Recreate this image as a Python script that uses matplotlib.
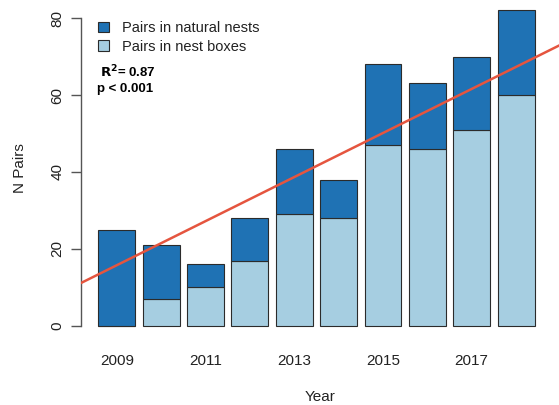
import matplotlib
matplotlib.use("Agg")
import matplotlib.pyplot as plt
from matplotlib.patches import Patch

# ---- data ----
years = [2009, 2010, 2011, 2012, 2013, 2014, 2015, 2016, 2017, 2018]
nest_boxes = [0, 7, 10, 17, 29, 28, 47, 46, 51, 60]
natural_nests = [25, 14, 6, 11, 17, 10, 21, 17, 19, 22]
y_ticks = [0, 20, 40, 60, 80]
legend_labels = ["Pairs in natural nests", "Pairs in nest boxes"]
# fitted trend values at first and last year
trend_first = 15.8
trend_last = 67.3
r2_text = r"$\mathbf{R^2}$= 0.87"
p_text = "p < 0.001"

plt.rcParams['font.family'] = ['Liberation Sans', 'DejaVu Sans']

W, H = 559, 405
fig = plt.figure(figsize=(W / 100, H / 100), dpi=100)
ax = fig.add_axes([81 / W, (H - 338.6) / H, (560 - 81) / W, 340.9 / H])

dark = "#1F72B4"
light = "#A6CEE1"
edge = "#2b2b2b"

xpos = [0.7 + 1.2 * i for i in range(len(years))]
ax.bar(xpos, nest_boxes, width=1.0, color=light, edgecolor=edge, linewidth=0.8, zorder=2)
ax.bar(xpos, natural_nests, width=1.0, bottom=nest_boxes, color=dark, edgecolor=edge,
       linewidth=0.8, zorder=2)

ax.axline((xpos[0], trend_first), (xpos[-1], trend_last), color="#E5553F", lw=1.8, zorder=3)

ax.set_xlim(-0.272, 12.69)
ax.set_ylim(-3.28, 85.28)

for s in ["top", "right", "bottom"]:
    ax.spines[s].set_visible(False)
ax.spines["left"].set_bounds(0, 80)
ax.spines["left"].set_color("#555555")
ax.spines["left"].set_linewidth(1.0)

ax.set_yticks(y_ticks)
ax.set_yticklabels([str(v) for v in y_ticks], rotation=90, va="center", fontsize=11, color="#222222")
ax.tick_params(axis="y", length=7, width=1.0, color="#555555", pad=5)

ax.set_xticks(xpos)
ax.set_xticklabels([str(y) if i % 2 == 0 else "" for i, y in enumerate(years)],
                   fontsize=11, color="#222222")
ax.tick_params(axis="x", length=0, pad=11)

ax.set_xlabel("Year", fontsize=11, color="#222222", labelpad=16)
ax.set_ylabel("N Pairs", fontsize=11, color="#222222", labelpad=17)

handles = [Patch(facecolor=dark, edgecolor=edge, linewidth=0.8),
           Patch(facecolor=light, edgecolor=edge, linewidth=0.8)]
leg = ax.legend(handles, legend_labels, loc="upper left",
                bbox_to_anchor=(88 / W, 1 - 11 / H), bbox_transform=fig.transFigure,
                frameon=False, fontsize=10.5, handlelength=0.75, handleheight=0.75,
                handletextpad=0.9, labelspacing=0.3, borderpad=0.2)
for t in leg.get_texts():
    t.set_color("#222222")

fig.text(100 / W, 1 - 72 / H, r2_text, fontsize=9.5, fontweight="bold", va="center", ha="left")
fig.text(97 / W, 1 - 89 / H, p_text, fontsize=9.5, fontweight="bold", va="center", ha="left")

fig.savefig("out.png", dpi=100)
